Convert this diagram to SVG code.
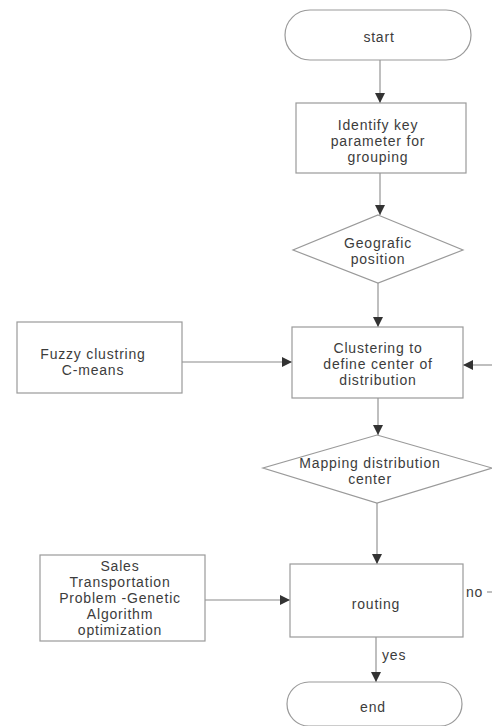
<svg xmlns="http://www.w3.org/2000/svg" width="492" height="726" viewBox="0 0 492 726">
<style>
.shape{fill:#ffffff;stroke:#9a9a9a;stroke-width:1.2}
.t{font-family:"Liberation Sans",Arial,sans-serif;font-size:14px;fill:#3c3c3c;text-anchor:middle;letter-spacing:0.8px}
.lab{font-family:"Liberation Sans",Arial,sans-serif;font-size:14px;fill:#3c3c3c;letter-spacing:0.8px}
.c{stroke:#8a8a8a;stroke-width:1.1;fill:none}
</style>
<defs>
<marker id="ah" viewBox="0 0 10 10" refX="10" refY="5" markerWidth="11" markerHeight="10" markerUnits="userSpaceOnUse" orient="auto">
<path d="M0,0 L10,5 L0,10 z" fill="#333"/>
</marker>
</defs>
<rect width="492" height="726" fill="#ffffff"/>
<g id="connectors">
<line class="c" x1="380" y1="60" x2="380" y2="103" marker-end="url(#ah)"/>
<line class="c" x1="380" y1="173" x2="380" y2="215" marker-end="url(#ah)"/>
<line class="c" x1="378" y1="283" x2="378" y2="327" marker-end="url(#ah)"/>
<line class="c" x1="182" y1="362" x2="292" y2="362" marker-end="url(#ah)"/>
<line class="c" x1="492" y1="365" x2="463" y2="365" marker-end="url(#ah)"/>
<line class="c" x1="378" y1="398" x2="378" y2="435" marker-end="url(#ah)"/>
<line class="c" x1="377" y1="503" x2="377" y2="564" marker-end="url(#ah)"/>
<line class="c" x1="205" y1="600" x2="290" y2="600" marker-end="url(#ah)"/>
<line class="c" x1="487" y1="592" x2="492" y2="592"/>
<line class="c" x1="376" y1="637" x2="376" y2="682" marker-end="url(#ah)"/>
<text class="lab" x="466" y="597">no</text>
<text class="lab" x="382" y="660">yes</text>
</g>
<g id="start">
<rect class="shape" x="285" y="10" width="186" height="50" rx="25" ry="25"/>
<text class="t" x="379" y="42">start</text>
</g>
<g id="identify">
<rect class="shape" x="296" y="103" width="170" height="70"/>
<text class="t" x="378" y="130">Identify key</text>
<text class="t" x="378" y="146">parameter for</text>
<text class="t" x="378" y="162">grouping</text>
</g>
<g id="geografic">
<polygon class="shape" points="378,215 463,250 378,283 293,250"/>
<text class="t" x="378" y="248">Geografic</text>
<text class="t" x="378" y="264">position</text>
</g>
<g id="clustering">
<rect class="shape" x="292" y="327" width="171" height="71"/>
<text class="t" x="378" y="353">Clustering to</text>
<text class="t" x="378" y="369">define center of</text>
<text class="t" x="378" y="385">distribution</text>
</g>
<g id="fuzzy">
<rect class="shape" x="17" y="322" width="165" height="71"/>
<text class="t" x="93" y="359">Fuzzy clustring</text>
<text class="t" x="93" y="375">C-means</text>
</g>
<g id="mapping">
<polygon class="shape" points="377,435 492,468 377,503 263,468"/>
<text class="t" x="370" y="468">Mapping distribution</text>
<text class="t" x="370" y="484">center</text>
</g>
<g id="routing">
<rect class="shape" x="290" y="564" width="173" height="73"/>
<text class="t" x="376" y="609">routing</text>
</g>
<g id="sales">
<rect class="shape" x="40" y="555" width="165" height="86"/>
<text class="t" x="120" y="571">Sales</text>
<text class="t" x="120" y="587">Transportation</text>
<text class="t" x="120" y="603">Problem -Genetic</text>
<text class="t" x="120" y="619">Algorithm</text>
<text class="t" x="120" y="635">optimization</text>
</g>
<g id="end">
<rect class="shape" x="287" y="682" width="175" height="44" rx="22" ry="22"/>
<text class="t" x="373" y="712">end</text>
</g>
</svg>
